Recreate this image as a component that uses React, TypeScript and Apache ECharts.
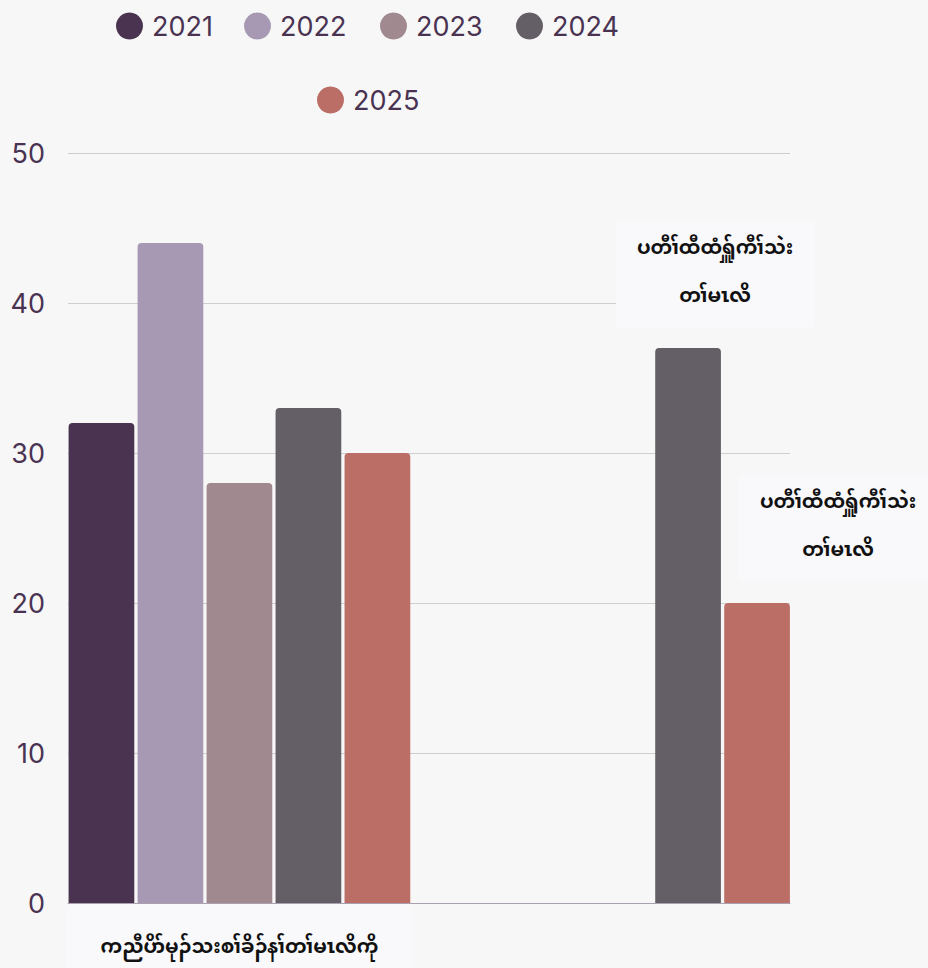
import React, { useEffect, useRef } from "react";
import * as echarts from "echarts";

const categories = ["ကညီပိာ်မုၣ်သးစၢ်ခိၣ်နၢ်တၢ်မၤလိကို", "ပတီၢ်ထီထံရ်ှူကီၢ်သဲး တၢ်မၤလိ"];
const years = ["2021", "2022", "2023", "2024", "2025"];
const values2021 = [32, null];
const values2022 = [44, null];
const values2023 = [28, null];
const values2024 = [33, 37];
const values2025 = [30, 20];
const yTicks = [0, 10, 20, 30, 40, 50];

const colors = ["#4a3350", "#a799b4", "#a0898f", "#645e66", "#bb6e66"];
const textColor = "#4a3352";
const latinFont = "Inter, 'Open Sans', sans-serif";
const karenFont = "'Noto Sans Myanmar', Padauk, 'Myanmar Text', sans-serif";

// legend item placement (left edge of circle, vertical centre)
const legendLeft = [116, 244, 380, 516, 317];
const legendCenterY = [26, 26, 26, 26, 100];

export default function App() {
  const ref = useRef<HTMLDivElement>(null);
  useEffect(() => {
    document.body.style.margin = "0";
    const chart = echarts.init(ref.current!, null, { renderer: "svg" });
    const allValues = [values2021, values2022, values2023, values2024, values2025];
    const labelOffsets: Record<number, { dist: number; off: number }> = {
      3: { dist: 21, off: 27 },
      4: { dist: 22, off: 81 },
    };
    const series = years.map((y, si) => ({
      name: y,
      type: "bar",
      xAxisIndex: 0,
      yAxisIndex: 0,
      barGap: "5%",
      barCategoryGap: "10%",
      itemStyle: { color: colors[si], borderRadius: [4, 4, 0, 0] },
      data: allValues[si].map((v, i) => {
        if (v === null) return "-";
        if (i === 1 && labelOffsets[si]) {
          return {
            value: v,
            label: {
              show: true,
              position: "top",
              distance: labelOffsets[si].dist,
              offset: [labelOffsets[si].off, 0],
              formatter: () => categories[1].replace(" ", "\n"),
              fontFamily: karenFont,
              fontSize: 19.5,
              fontWeight: "bold",
              color: "#111111",
              lineHeight: 48,
              align: "center",
              backgroundColor: "#f9f9fb",
              padding: [4, 21, 6, 21],
            },
          };
        }
        return v;
      }),
    }));

    const itemSize = 27;
    const legends = years.map((y, i) => ({
      data: [y],
      left: legendLeft[i] - 5,
      top: legendCenterY[i] - itemSize / 2 - 5,
      icon: "circle",
      itemWidth: itemSize,
      itemHeight: itemSize,
      textStyle: {
        fontSize: 27,
        lineHeight: itemSize,
        color: textColor,
        fontFamily: latinFont,
        padding: [0, 0, 0, 4],
      },
    }));

    chart.setOption({
      animation: false,
      backgroundColor: "#f7f7f7",
      legend: legends,
      grid: [
        { left: 49.6, right: 119.1, top: 153, bottom: 65, outerBoundsMode: "none", containLabel: false },
        { left: 68, right: 138, top: 153, bottom: 65, outerBoundsMode: "none", containLabel: false },
      ],
      xAxis: [
        {
          type: "category",
          gridIndex: 0,
          data: categories,
          axisLine: { show: false },
          axisTick: { show: false },
          axisLabel: {
            margin: 2,
            interval: 0,
            verticalAlign: "top",
            formatter: (v: string, i: number) => (i === 0 ? `{b|${v}}` : ""),
            rich: {
              b: {
                fontFamily: karenFont,
                fontSize: 19.5,
                fontWeight: "bold",
                color: "#111111",
                lineHeight: 86,
                height: 86,
                backgroundColor: "#f9f9fb",
                padding: [0, 34, 0, 34],
              },
            },
          },
        },
        {
          type: "value",
          gridIndex: 1,
          min: 0,
          max: 1,
          axisLabel: { show: false },
          axisTick: { show: false },
          splitLine: { show: false },
          axisLine: { show: true, lineStyle: { color: "#a9a1b0", width: 1 } },
        },
      ],
      yAxis: [
        { type: "value", gridIndex: 0, min: 0, max: 50, show: false },
        {
          type: "value",
          gridIndex: 1,
          min: yTicks[0],
          max: yTicks[yTicks.length - 1],
          interval: 10,
          axisLine: { show: false },
          axisTick: { show: false },
          axisLabel: { margin: 23, fontSize: 27, color: textColor, fontFamily: latinFont },
          splitLine: { lineStyle: { color: "#cfcfcf", width: 1 } },
        },
      ],
      series,
    });
    return () => chart.dispose();
  }, []);
  return <div ref={ref} style={{ width: 928, height: 968 }} />;
}
